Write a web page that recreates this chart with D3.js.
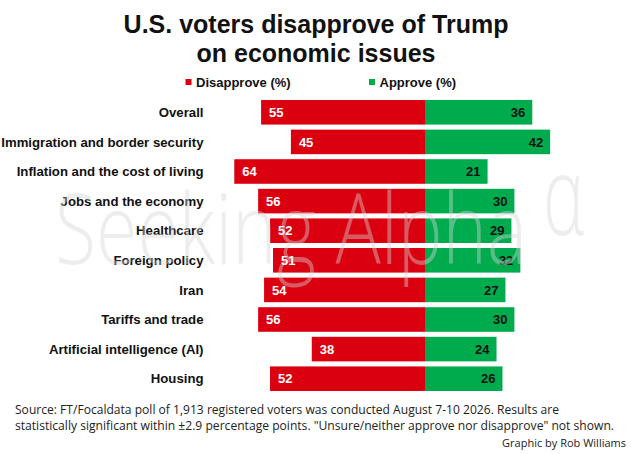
<!DOCTYPE html>
<html lang="en">
<head>
  <meta charset="UTF-8">
  <title>U.S. voters disapprove of Trump on economic issues</title>
  <script src="https://d3js.org/d3.v7.min.js"></script>
  <style>
    body { margin: 0; background: #fff; }
    svg { display: block; font-family: "Liberation Sans", Arial, sans-serif; }
  </style>
</head>
<body>
  <div id="chart"></div>

  <script>
    // Poll data (percent)
    const categories = [
      "Overall",
      "Immigration and border security",
      "Inflation and the cost of living",
      "Jobs and the economy",
      "Healthcare",
      "Foreign policy",
      "Iran",
      "Tariffs and trade",
      "Artificial intelligence (AI)",
      "Housing"
    ];
    const disapprove = [55, 45, 64, 56, 52, 51, 54, 56, 38, 52];
    const approve = [36, 42, 21, 30, 29, 32, 27, 30, 24, 26];
    const seriesNames = ["Disapprove (%)", "Approve (%)"];

    const red = "#da0010", green = "#00ab4e";
    const width = 640, height = 454;

    const svg = d3.select("#chart")
      .append("svg")
      .attr("width", width)
      .attr("height", height);

    // diverging scale: negative = disapprove, positive = approve
    const x = d3.scaleLinear()
      .domain([-70, 70])
      .range([216.4, 633.6]);

    const y = d3.scaleBand()
      .domain(categories)
      .range([97.5, 393.5])
      .paddingInner(0.17)
      .paddingOuter(0.085);

    const data = categories.map((c, i) => ({ cat: c, dis: disapprove[i], app: approve[i] }));

    // title
    svg.append("text")
      .attr("x", 316)
      .attr("y", 32.5)
      .attr("text-anchor", "middle")
      .style("font-size", "25px")
      .style("font-weight", "bold")
      .attr("fill", "#111")
      .text("U.S. voters disapprove of Trump");
    svg.append("text")
      .attr("x", 316)
      .attr("y", 61.5)
      .attr("text-anchor", "middle")
      .style("font-size", "25px")
      .style("font-weight", "bold")
      .attr("fill", "#111")
      .text("on economic issues");

    // legend
    const legend = svg.append("g").selectAll("g")
      .data(seriesNames)
      .join("g")
      .attr("transform", (d, i) => `translate(${i ? 369 : 185.5},82)`);
    legend.append("rect")
      .attr("y", -3)
      .attr("width", 6)
      .attr("height", 6)
      .attr("fill", (d, i) => i ? green : red);
    legend.append("text")
      .attr("x", 10.5)
      .attr("dy", "0.35em")
      .style("font-size", "13px")
      .style("font-weight", "bold")
      .attr("fill", "#111")
      .text(d => d);

    // bars
    const rows = svg.append("g").selectAll("g")
      .data(data)
      .join("g");

    rows.append("rect")
      .attr("x", d => x(-d.dis))
      .attr("y", d => y(d.cat))
      .attr("width", d => x(0) - x(-d.dis))
      .attr("height", y.bandwidth())
      .attr("fill", red);

    rows.append("rect")
      .attr("x", x(0))
      .attr("y", d => y(d.cat))
      .attr("width", d => x(d.app) - x(0))
      .attr("height", y.bandwidth())
      .attr("fill", green);

    // watermark over the bars, under the labels
    const wm = svg.append("g")
      .attr("fill", "#d6d6d6")
      .attr("opacity", 0.42)
      .style("font-family", "'Open Sans', 'DejaVu Sans', sans-serif")
      .style("font-weight", "300");
    wm.append("text")
      .attr("x", 55)
      .attr("y", 264)
      .style("font-size", "98px")
      .attr("textLength", 472)
      .attr("lengthAdjust", "spacingAndGlyphs")
      .text("Seeking Alpha");
    wm.append("text")
      .attr("x", 543)
      .attr("y", 235)
      .style("font-size", "110px")
      .attr("textLength", 41)
      .attr("lengthAdjust", "spacingAndGlyphs")
      .text("α");

    // category labels
    rows.append("text")
      .attr("x", 203.5)
      .attr("y", d => y(d.cat) + y.bandwidth() / 2)
      .attr("dy", "0.36em")
      .attr("text-anchor", "end")
      .style("font-size", "13.2px")
      .style("font-weight", "bold")
      .attr("fill", "#111")
      .text(d => d.cat);

    // value labels
    rows.append("text")
      .attr("x", d => x(-d.dis) + 8)
      .attr("y", d => y(d.cat) + y.bandwidth() / 2)
      .attr("dy", "0.36em")
      .style("font-size", "13px")
      .style("font-weight", "bold")
      .attr("fill", "#fff")
      .text(d => d.dis);

    rows.append("text")
      .attr("x", d => x(d.app) - 7)
      .attr("y", d => y(d.cat) + y.bandwidth() / 2)
      .attr("dy", "0.36em")
      .attr("text-anchor", "end")
      .style("font-size", "13px")
      .style("font-weight", "bold")
      .attr("fill", "#111")
      .text(d => d.app);

    // source note
    const note = svg.append("g")
      .style("font-family", "'Open Sans', sans-serif")
      .style("font-size", "12px")
      .attr("fill", "#222");
    note.append("text")
      .attr("x", 15)
      .attr("y", 413.5)
      .attr("textLength", 544)
      .attr("lengthAdjust", "spacingAndGlyphs")
      .text("Source: FT/Focaldata poll of 1,913 registered voters was conducted August  7-10 2026. Results are");
    note.append("text")
      .attr("x", 15)
      .attr("y", 430)
      .attr("textLength", 599)
      .attr("lengthAdjust", "spacingAndGlyphs")
      .text("statistically significant within \u00b12.9 percentage points. \"Unsure/neither approve nor disapprove\" not shown.");
    note.append("text")
      .attr("x", 626)
      .attr("y", 447)
      .attr("text-anchor", "end")
      .style("font-size", "11px")
      .text("Graphic by Rob Williams");
  </script>
</body>
</html>
